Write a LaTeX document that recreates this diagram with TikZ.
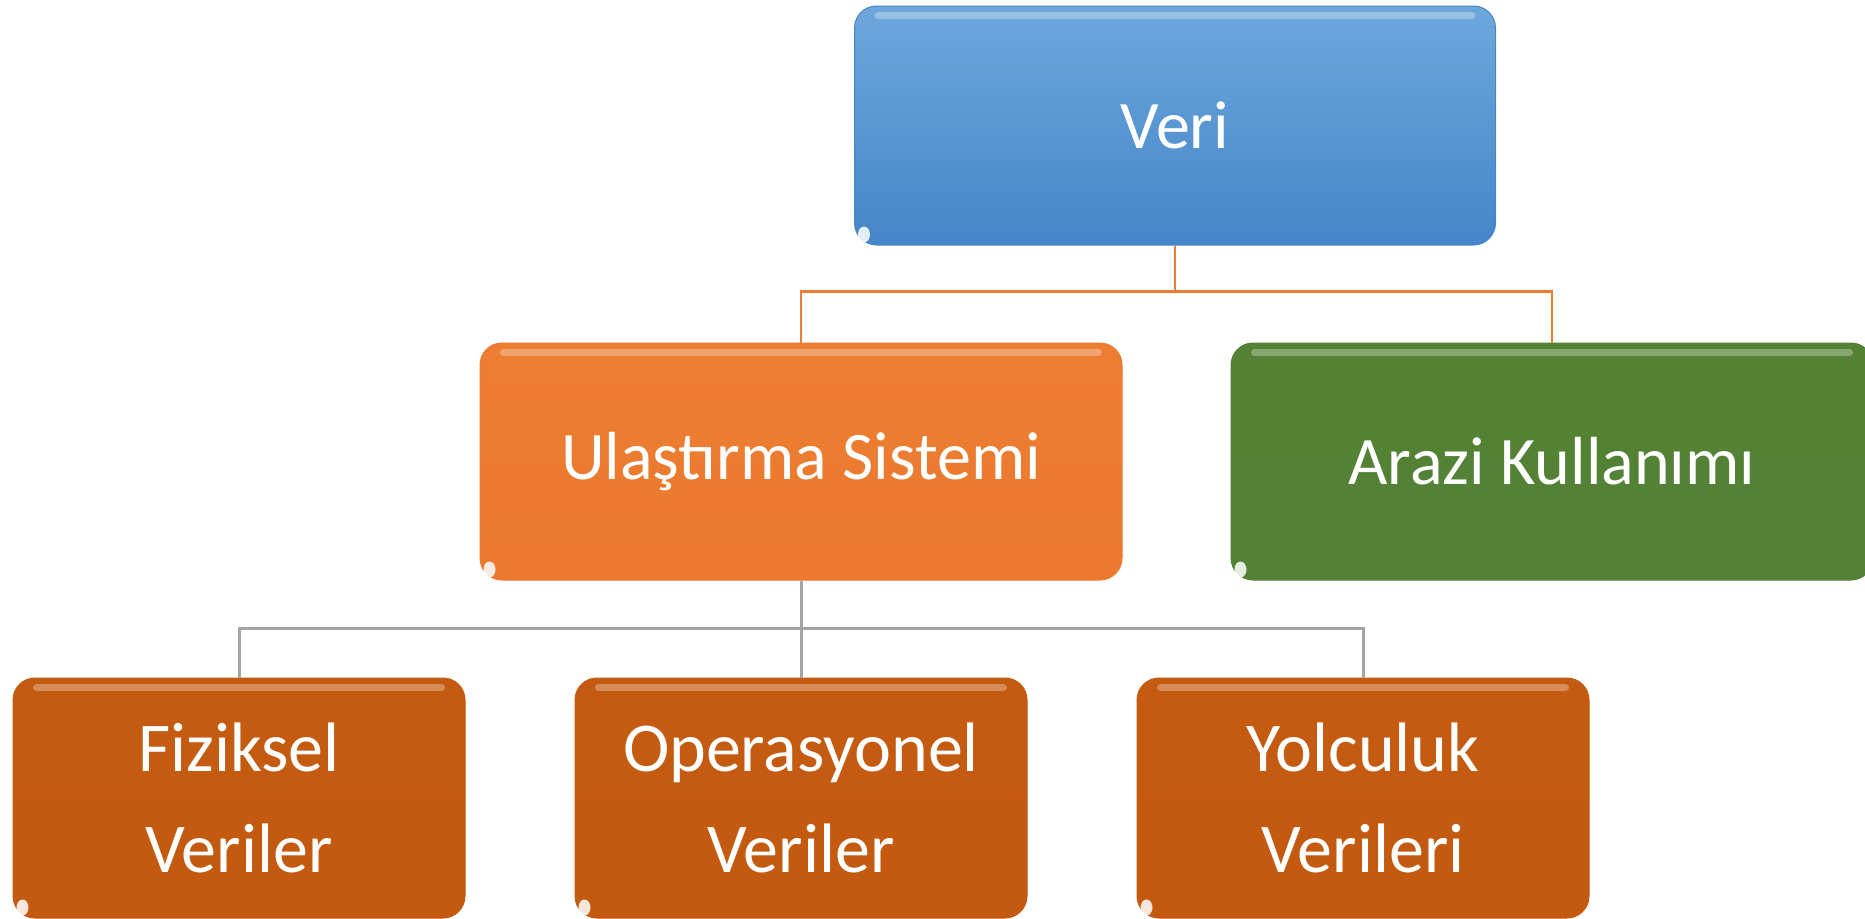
\documentclass[tikz,border=0pt]{standalone}
\usepackage{fontspec}
\setmainfont{Carlito}
\definecolor{vtop}{HTML}{6EA7DC}
\definecolor{vbot}{HTML}{4486C9}
\definecolor{otop}{HTML}{ED7D31}
\definecolor{obot}{HTML}{EB7A2E}
\definecolor{gtop}{HTML}{548235}
\definecolor{gbot}{HTML}{538135}
\definecolor{dtop}{HTML}{C55A11}
\definecolor{dbot}{HTML}{C45A10}
\definecolor{oline}{HTML}{ED7D31}
\definecolor{gline}{HTML}{A5A5A5}
\begin{document}
\begin{tikzpicture}[x=1pt,y=-1pt,
  boxbase/.style={rounded corners=22pt, inner sep=0pt, text=white, align=center, line width=1pt},
  topbox/.style={boxbase, top color=vtop, bottom color=vbot, draw=vbot, minimum width=641pt, minimum height=239pt, font=\fontsize{68}{80}\selectfont},
  midbox/.style={boxbase, top color=#1top, bottom color=#1bot, draw=#1bot, minimum width=642pt, minimum height=237pt, font=\fontsize{68}{80}\selectfont},
  leafbox/.style={boxbase, top color=dtop, bottom color=dbot, draw=dbot, minimum width=452pt, minimum height=240pt, font=\fontsize{70}{101}\selectfont},
  oconn/.style={draw=oline, line width=2.5pt},
  gconn/.style={draw=gline, line width=3pt},
  gloss/.style={white, opacity=0.3, line width=7pt, line cap=round},
  spot/.style={white, opacity=0.85}
]
\useasboundingbox (0,0) rectangle (1865,918);
\clip (0,0) rectangle (1865,918);

\node[topbox] (veri) at (1175,125.5) {Veri};
\node[midbox=o] (ula) at (801,461.5) {Ulaştırma Sistemi};
\node[midbox=g] (ara) at (1552,461.5) {Arazi Kullanımı};
\node[leafbox] (fiz) at (239,798) {Fiziksel\\Veriler};
\node[leafbox] (ope) at (801,798) {Operasyonel\\Veriler};
\node[leafbox] (yol) at (1363,798) {Yolculuk\\Verileri};

\foreach \n in {veri,ula,ara,fiz,ope,yol}{
  \draw[gloss] ([xshift=24pt,yshift=-10pt]\n.north west) -- ([xshift=-24pt,yshift=-10pt]\n.north east);
  \fill[spot] ([xshift=10pt,yshift=11pt]\n.south west) ellipse [x radius=6pt, y radius=8pt];
}

\path (veri.south) ++(0,46) coordinate (j1);
\draw[oconn] (veri.south) -- (j1);
\draw[oconn] (j1) -| (ula.north);
\draw[oconn] (j1) -| (ara.north);

\path (ula.south) ++(0,48) coordinate (j2);
\draw[gconn] (ula.south) -- (j2);
\draw[gconn] (j2) -| (fiz.north);
\draw[gconn] (j2) -- (ope.north);
\draw[gconn] (j2) -| (yol.north);
\end{tikzpicture}
\end{document}
